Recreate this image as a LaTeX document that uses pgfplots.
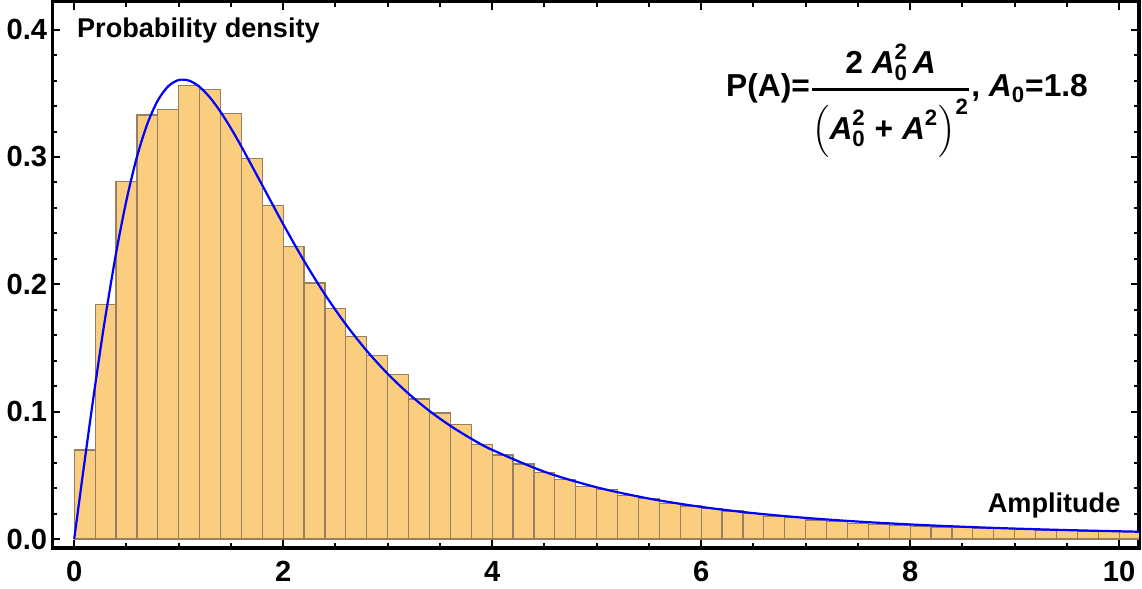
\documentclass[border=0pt]{standalone}
\usepackage{amsmath}
\usepackage{fontspec}
\setmainfont{Liberation Sans}
\usepackage{pgfplots}
\pgfplotsset{compat=1.18}
\definecolor{barfill}{RGB}{251,205,127}
\definecolor{baredge}{RGB}{150,128,98}
\begin{document}
\begin{tikzpicture}
\begin{axis}[
  scale only axis,
  width=541pt, height=272pt,
  xmin=-0.21, xmax=10.19,
  ymin=-0.007, ymax=0.422,
  axis line style={line width=1.6pt},
  tick align=inside,
  tick pos=both,
  xtick={0,2,4,6,8,10},
  ytick={0,0.1,0.2,0.3,0.4},
  minor x tick num=3,
  minor y tick num=4,
  major tick length=4pt,
  minor tick length=2.5pt,
  tick style={black, line width=1pt},
  /pgf/number format/assume math mode=true,
  ticklabel style={font=\fontsize{14.5}{16}\selectfont\bfseries},
  yticklabel style={xshift=1pt, /pgf/number format/.cd, fixed, fixed zerofill, precision=1},
  xticklabel style={yshift=-3pt, /pgf/number format/.cd, fixed, precision=0},
  clip=true,
]
\addplot[ybar interval, fill=barfill, draw=baredge, line width=0.6pt] coordinates {
(0.0,0.070) (0.2,0.184) (0.4,0.281) (0.6,0.333) (0.8,0.337)
(1.0,0.356) (1.2,0.353) (1.4,0.334) (1.6,0.299) (1.8,0.262)
(2.0,0.230) (2.2,0.201) (2.4,0.181) (2.6,0.159) (2.8,0.144)
(3.0,0.129) (3.2,0.110) (3.4,0.099) (3.6,0.090) (3.8,0.074)
(4.0,0.066) (4.2,0.059) (4.4,0.052) (4.6,0.047) (4.8,0.041)
(5.0,0.039) (5.2,0.034) (5.4,0.032) (5.6,0.028) (5.8,0.026)
(6.0,0.024) (6.2,0.022) (6.4,0.020) (6.6,0.018) (6.8,0.0167)
(7.0,0.0150) (7.2,0.0138) (7.4,0.0122) (7.6,0.0112) (7.8,0.0106)
(8.0,0.0099) (8.2,0.0094) (8.4,0.0089) (8.6,0.0084) (8.8,0.0080)
(9.0,0.0075) (9.2,0.0071) (9.4,0.0068) (9.6,0.0064) (9.8,0.0061)
(10.0,0.0058) (10.2,0.0058)
};
\addplot[smooth, blue, line width=1.1pt] coordinates {
(0,0) (0.05,0.03082) (0.1,0.06135) (0.15,0.09132) (0.2,0.12046) (0.25,0.14853)
(0.3,0.17531) (0.4,0.22422) (0.5,0.26601) (0.6,0.3) (0.7,0.32603)
(0.8,0.34435) (0.9,0.35556) (1.0,0.36045) (1.1,0.35995) (1.2,0.35503)
(1.3,0.34660) (1.4,0.33550) (1.5,0.32249) (1.6,0.30821) (1.8,0.27778)
(2.0,0.24725) (2.2,0.21836) (2.4,0.19200) (2.6,0.16848) (2.8,0.14779)
(3.0,0.12976) (3.2,0.11412) (3.4,0.10058) (3.6,0.08889) (3.8,0.07878)
(4.0,0.07002) (4.5,0.05285) (5.0,0.04063) (5.5,0.03178) (6.0,0.02525)
(6.5,0.02035) (7.0,0.01662) (7.5,0.01373) (8.0,0.01147) (8.5,0.00967)
(9.0,0.00822) (9.5,0.00704) (10.0,0.00608) (10.2,0.00574)
};
\node[anchor=west, font=\fontsize{13.5}{15}\selectfont\bfseries] at (axis cs:-0.04,0.399) {Probability density};
\node[anchor=east, font=\fontsize{13.5}{15}\selectfont\bfseries] at (axis cs:10.08,0.026) {Amplitude};
\node[font=\fontsize{15.8}{18}\selectfont\bfseries] at (axis cs:7.97,0.344) {P(A)=$\genfrac{}{}{1.3pt}{0}{\text{2 \textit{A}}^{\text{2}}_{\text{0}}\,\text{\textit{A}}}{\left(\text{\textit{A}}^{\text{2}}_{\text{0}}\text{ + \textit{A}}^{\text{2}}\right)^{\text{2}}}$, \textit{A}$_{\text{0}}$=1.8};
\end{axis}
\end{tikzpicture}
\end{document}
